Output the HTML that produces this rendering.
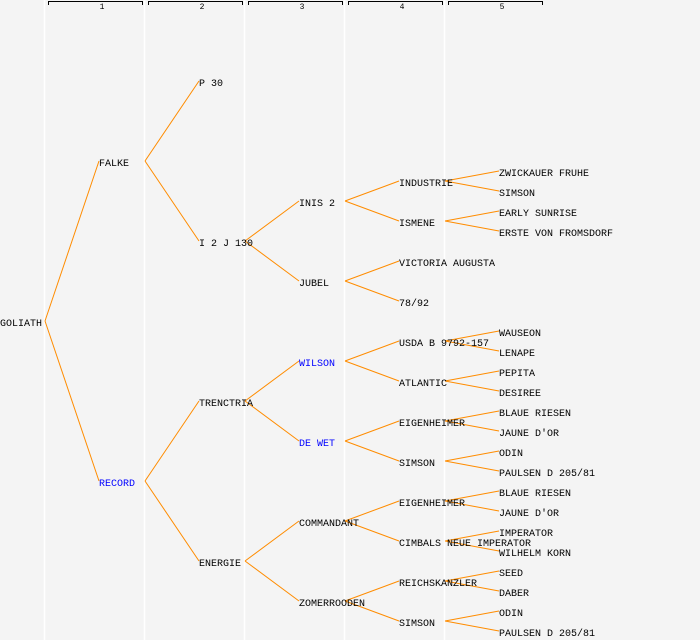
<!DOCTYPE html>
<html><head><style>
body{margin:0;background:#f4f4f4}
svg{display:block}
text{font-family:"Liberation Mono",monospace;font-size:10px;fill:#000}
.b{fill:#0000ff}
.h{font-size:8px}
</style></head><body>
<svg width="700" height="640" viewBox="0 0 700 640">
<rect width="700" height="640" fill="#f4f4f4"/>
<g stroke="#fff" stroke-width="1.5">
<line x1="44.5" y1="0" x2="44.5" y2="640"/><line x1="144.5" y1="0" x2="144.5" y2="640"/>
<line x1="244.5" y1="0" x2="244.5" y2="640"/><line x1="344.5" y1="0" x2="344.5" y2="640"/>
<line x1="444.5" y1="0" x2="444.5" y2="640"/>
</g>
<g stroke="#000" fill="none" stroke-width="1">
<path d="M48.5 5V1.5H142.5V5"/><path d="M148.5 5V1.5H242.5V5"/><path d="M248.5 5V1.5H342.5V5"/>
<path d="M348.5 5V1.5H442.5V5"/><path d="M448.5 5V1.5H542.5V5"/>
</g>
<g class="h" text-anchor="middle">
<text class="h" x="102" y="9">1</text><text class="h" x="202" y="9">2</text><text class="h" x="302" y="9">3</text><text class="h" x="402" y="9">4</text><text class="h" x="502" y="9">5</text>
</g>
<g stroke="#ff8c00" stroke-width="1" fill="none">
<path d="M45 321L99 161M45 321L99 481"/>
<path d="M145 161L199 81M145 161L199 241M145 481L199 401M145 481L199 561"/>
<path d="M245 241L299 201M245 241L299 281M245 401L299 361M245 401L299 441M245 561L299 521M245 561L299 601"/>
<path d="M345 201L399 181M345 201L399 221M345 281L399 261M345 281L399 301M345 361L399 341M345 361L399 381M345 441L399 421M345 441L399 461M345 521L399 501M345 521L399 541M345 601L399 581M345 601L399 621"/>
<path d="M445 181L499 171M445 181L499 191M445 221L499 211M445 221L499 231M445 341L499 331M445 341L499 351M445 381L499 371M445 381L499 391M445 421L499 411M445 421L499 431M445 461L499 451M445 461L499 471M445 501L499 491M445 501L499 511M445 541L499 531M445 541L499 551M445 581L499 571M445 581L499 591M445 621L499 611M445 621L499 631"/>
</g>
<text x="0" y="326">GOLIATH</text>
<text x="99" y="166">FALKE</text><text class="b" x="99" y="486">RECORD</text>
<text x="199" y="86">P 30</text><text x="199" y="246">I 2 J 130</text><text x="199" y="406">TRENCTRIA</text><text x="199" y="566">ENERGIE</text>
<text x="299" y="206">INIS 2</text><text x="299" y="286">JUBEL</text><text class="b" x="299" y="366">WILSON</text><text class="b" x="299" y="446">DE WET</text><text x="299" y="526">COMMANDANT</text><text x="299" y="606">ZOMERROODEN</text>
<text x="399" y="186">INDUSTRIE</text><text x="399" y="226">ISMENE</text><text x="399" y="266">VICTORIA AUGUSTA</text><text x="399" y="306">78/92</text>
<text x="399" y="346">USDA B 9792-157</text><text x="399" y="386">ATLANTIC</text><text x="399" y="426">EIGENHEIMER</text><text x="399" y="466">SIMSON</text>
<text x="399" y="506">EIGENHEIMER</text><text x="399" y="546">CIMBALS NEUE IMPERATOR</text><text x="399" y="586">REICHSKANZLER</text><text x="399" y="626">SIMSON</text>
<text x="499" y="176">ZWICKAUER FRUHE</text><text x="499" y="196">SIMSON</text><text x="499" y="216">EARLY SUNRISE</text><text x="499" y="236">ERSTE VON FROMSDORF</text>
<text x="499" y="336">WAUSEON</text><text x="499" y="356">LENAPE</text><text x="499" y="376">PEPITA</text><text x="499" y="396">DESIREE</text>
<text x="499" y="416">BLAUE RIESEN</text><text x="499" y="436">JAUNE D'OR</text><text x="499" y="456">ODIN</text><text x="499" y="476">PAULSEN D 205/81</text>
<text x="499" y="496">BLAUE RIESEN</text><text x="499" y="516">JAUNE D'OR</text><text x="499" y="536">IMPERATOR</text><text x="499" y="556">WILHELM KORN</text>
<text x="499" y="576">SEED</text><text x="499" y="596">DABER</text><text x="499" y="616">ODIN</text><text x="499" y="636">PAULSEN D 205/81</text>
</svg>
</body></html>
